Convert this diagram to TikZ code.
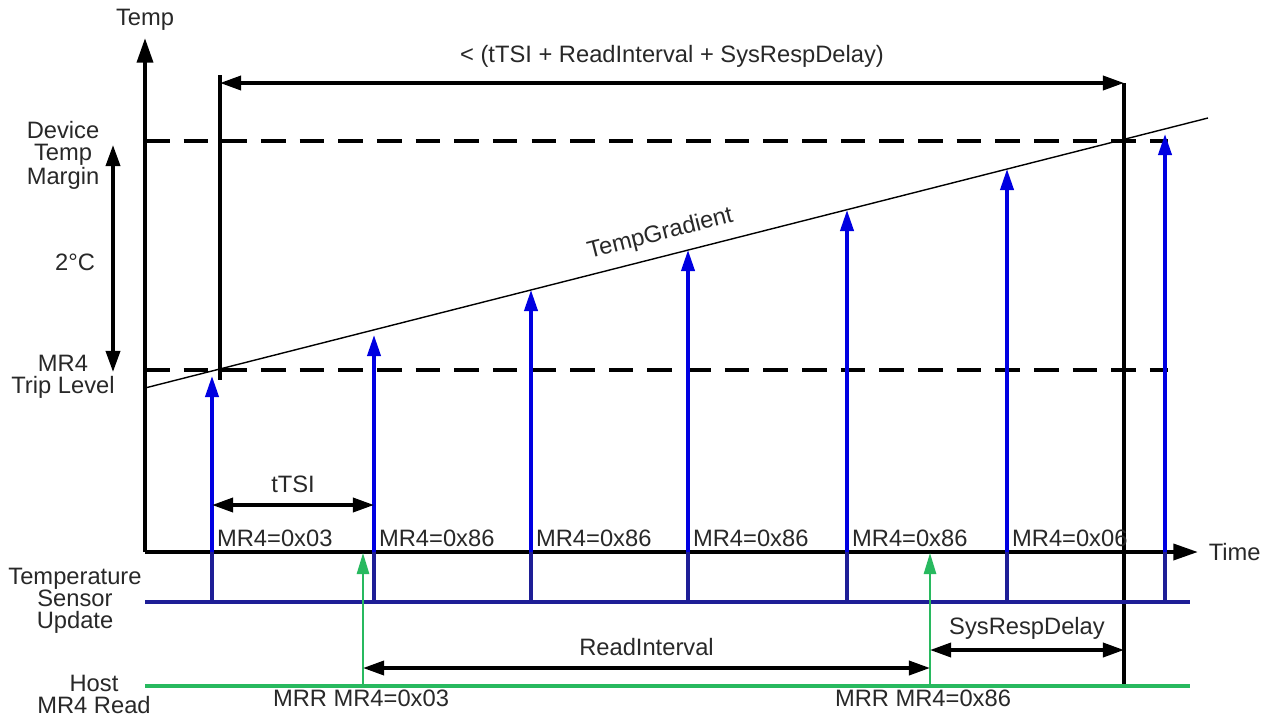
\documentclass[tikz,border=0pt]{standalone}
\usepackage{fontspec}
\setmainfont{Liberation Sans}
\usetikzlibrary{arrows.meta,positioning,calc}

\definecolor{txtgray}{RGB}{40,40,40}
\definecolor{updblue}{RGB}{0,0,225}
\definecolor{navy}{RGB}{30,30,150}
\definecolor{hostgreen}{RGB}{40,185,95}

\tikzset{
  lbl/.style={font=\fontsize{13.5}{12.5}\selectfont, text=txtgray, inner sep=1pt, align=center},
  axis/.style={line width=2.3pt, -{Triangle[length=14pt,width=9pt]}},
  level/.style={line width=2.2pt, dash pattern=on 14pt off 8pt},
  marker/.style={line width=2.2pt},
  span/.style={line width=2pt, {Triangle[length=12pt,width=8pt]}-{Triangle[length=12pt,width=8pt]}},
  update/.style={line width=2pt, updblue, -{Triangle[length=12pt,width=7.5pt]}},
  read/.style={line width=1.1pt, hostgreen, -{Triangle[length=12pt,width=7pt]}},
  lane/.style={line width=2.2pt},
}

\begin{document}
\begin{tikzpicture}[x=0.02cm, y=-0.02cm]
\useasboundingbox (0,0) rectangle (1271,717);

% Axes
\coordinate (O) at (145,552);
\coordinate (ytop) at (145,38);
\coordinate (xend) at (1198,552);
\draw[axis] (O) -- (ytop) node[lbl, above=2pt] (templbl) {Temp};
\draw[axis] (O) -- (xend) node[lbl, right=4pt] (timelbl) {Time};

% Temperature levels
\draw[level] (145,141) coordinate (mtop) -- (1168,141);
\draw[level] (145,370) coordinate (mtrip) -- (1168,370);

% Temperature gradient
\coordinate (gs) at (145,388);
\coordinate (ge) at (1208,118);
\draw[line width=0.8pt] (gs) -- (ge) node[lbl, pos=0.49, sloped, above=5pt] (gradlbl) {TempGradient};

% Margin on the left
\coordinate (m1) at (113,145);
\coordinate (m2) at (113,372);
\draw[span] (m1) -- (m2);
\node[lbl] (devlbl) at (63,155) {Device\\Temp\\Margin};
\node[lbl] (deglbl) at (75,262) {2°C};
\node[lbl] (triplbl) at (63,377) {MR4\\Trip Level};

% Response window
\coordinate (w1) at (220,75);
\coordinate (w1b) at (220,380);
\coordinate (w2) at (1124,83);
\coordinate (w2b) at (1124,687);
\draw[marker] (w1) -- (w1b);
\draw[marker] (w2) -- (w2b);
\draw[span] (220,83) -- (w2) node[lbl, midway, above=7pt] (winlbl) {< (tTSI + ReadInterval + SysRespDelay)};

% Lanes
\node[lbl] (tsulbl) at (75,601) {Temperature\\Sensor\\Update};
\node[lbl] (hostlbl) at (94,694) {Host\\MR4 Read};
\draw[lane, navy] (145,602) -- (1190,602);
\draw[lane, hostgreen] (145,686) -- (1190,686);

% Sensor updates
\foreach \x/\y [count=\i] in {212/376, 374/335, 531/290, 688/250, 847/210, 1007/169, 1165/134} {
  \coordinate (u\i) at (\x,602);
  \coordinate (t\i) at (\x,\y);
  \draw[line width=2pt, navy] (u\i) -- (\x,552);
  \draw[update] (\x,552) -- (t\i);
}
\foreach \x/\v [count=\i] in {212/0x03, 374/0x86, 531/0x86, 688/0x86, 847/0x86, 1007/0x06}
  \node[lbl, anchor=base west] (val\i) at (\x+3,546) {MR4=\v};

% Host reads
\coordinate (r1) at (363,686);
\coordinate (r2) at (930,686);
\draw[read] (r1) -- (363,553);
\draw[read] (r2) -- (930,553);
\node[lbl, anchor=base] (mrr1) at (361,706) {MRR MR4=0x03};
\node[lbl, anchor=base] (mrr2) at (923,706) {MRR MR4=0x86};

% Intervals
\draw[span] (212,505) -- (374,505) node[lbl, midway, above=5pt] (tsilbl) {tTSI};
\draw[span] (363,668) -- (930,668) node[lbl, midway, above=5pt] (rilbl) {ReadInterval};
\draw[span] (930,650) -- (1124,650) node[lbl, midway, above=4pt] (srdlbl) {SysRespDelay};
\end{tikzpicture}
\end{document}
